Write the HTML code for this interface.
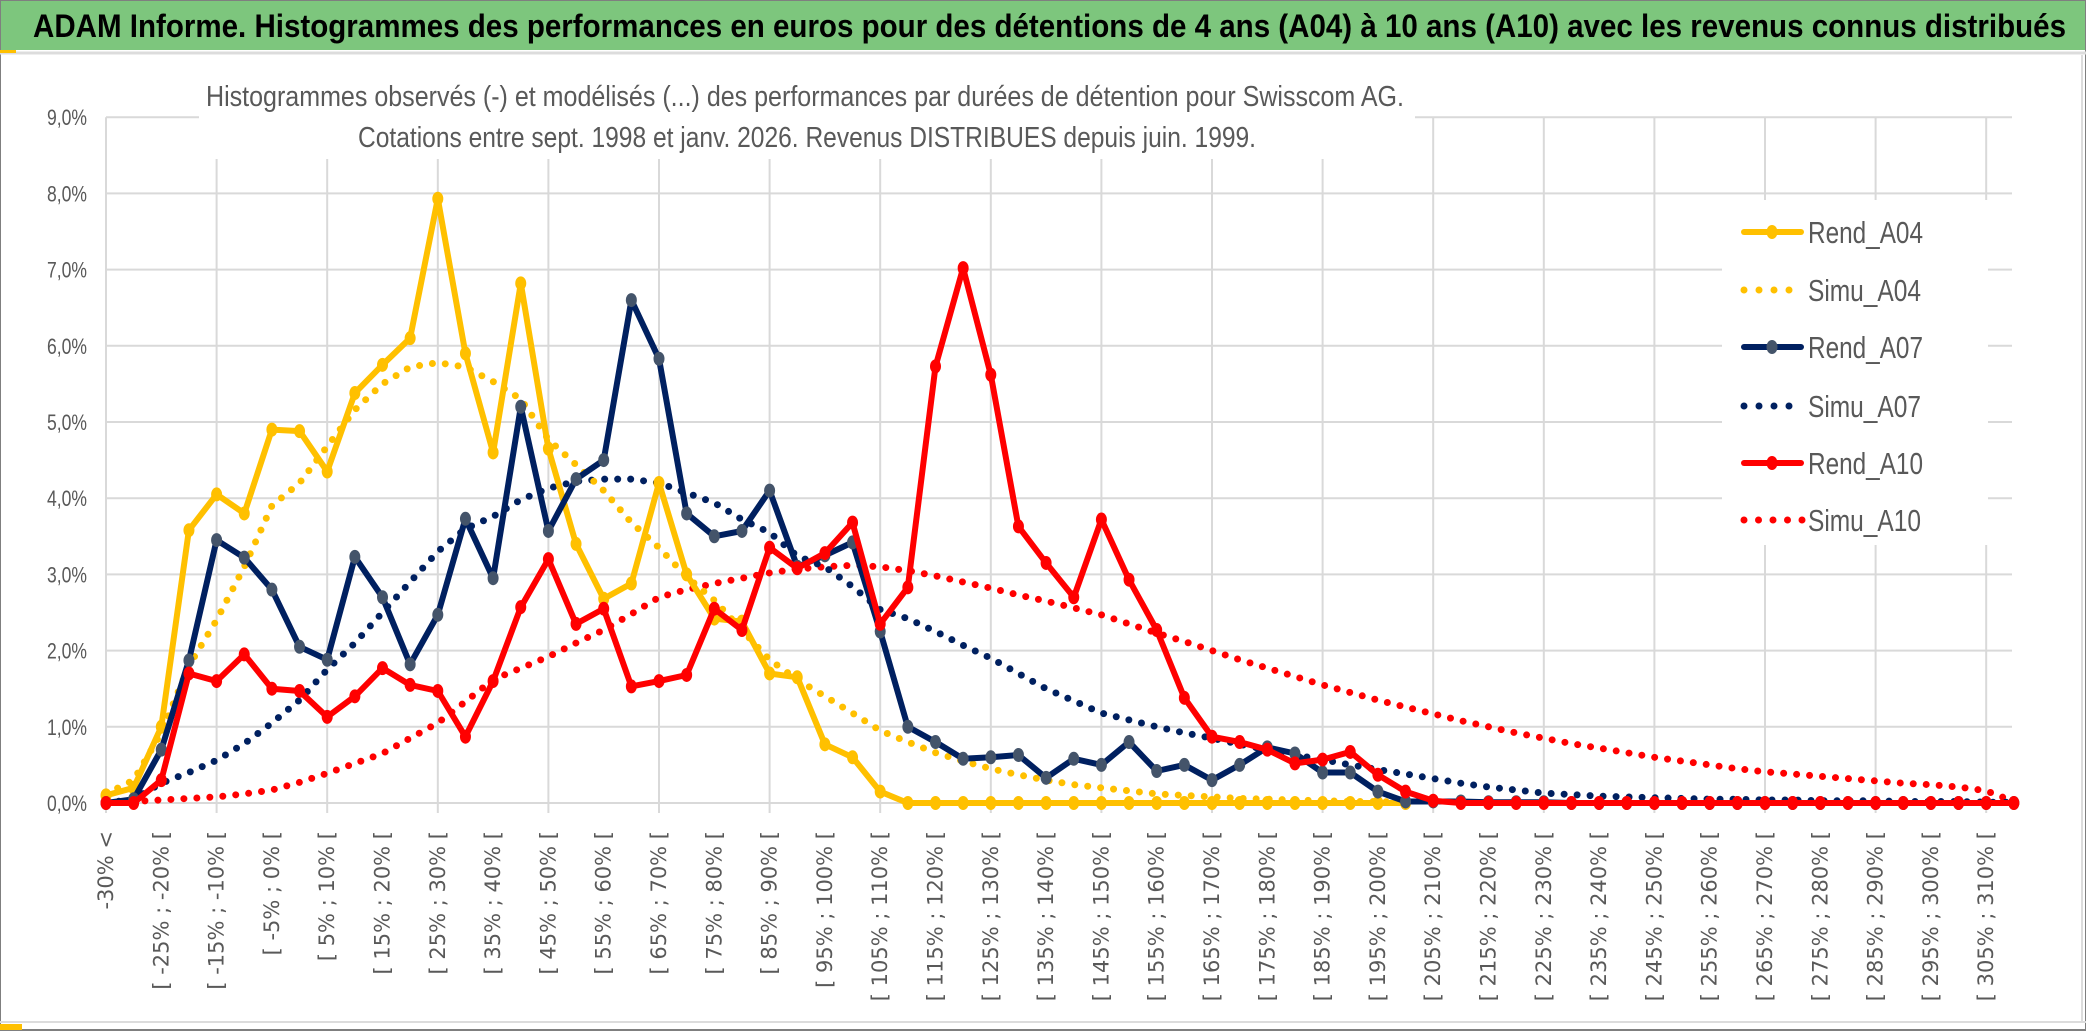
<!DOCTYPE html>
<html><head><meta charset="utf-8">
<style>
html,body{margin:0;padding:0;background:#fff;}
svg{display:block;}
</style></head>
<body>
<svg id="chart" width="2086" height="1031" viewBox="0 0 2086 1031" xmlns="http://www.w3.org/2000/svg">
  <rect x="0" y="0" width="2086" height="1031" fill="#ffffff"/>
  <rect x="0" y="0" width="2086" height="50" fill="#7dc67d"/>
  <rect x="0.5" y="0.5" width="2085" height="1029" fill="none" stroke="#7f7f7f" stroke-width="1"/>
  <line x1="0" y1="53" x2="2086" y2="53" stroke="#dcdcdc" stroke-width="3"/>
  <rect x="0" y="50" width="16" height="3" fill="#ffc000"/>
  <text x="33" y="37" font-family="Liberation Sans, sans-serif" font-weight="bold" font-size="32" fill="#000" textLength="2033" lengthAdjust="spacingAndGlyphs">ADAM Informe. Histogrammes des performances en euros pour des détentions de 4 ans (A04) à 10 ans (A10) avec les revenus connus distribués</text>
  <line x1="0" y1="1022" x2="2086" y2="1022" stroke="#dcdcdc" stroke-width="2"/>
  <line x1="0" y1="1030" x2="2086" y2="1030" stroke="#7f7f7f" stroke-width="2"/>
  <rect x="0" y="1024" width="22" height="6" fill="#ffc000"/>
  <line x1="2082" y1="55" x2="2082" y2="1022" stroke="#dcdcdc" stroke-width="2"/>
  <g id="grid"></g>
  <g id="xlabels"></g>
  <g id="ylabels"></g>
  <g id="series"></g>
  <rect x="199" y="56" width="1216" height="103" fill="#ffffff"/>
  <text x="206" y="106" font-family="Liberation Sans, sans-serif" font-size="29" fill="#595959" textLength="1198" lengthAdjust="spacingAndGlyphs">Histogrammes observés (-) et modélisés (...) des performances par durées de détention pour Swisscom AG.</text>
  <text x="358" y="147" font-family="Liberation Sans, sans-serif" font-size="29" fill="#595959" textLength="898" lengthAdjust="spacingAndGlyphs">Cotations entre sept. 1998 et janv. 2026. Revenus DISTRIBUES depuis juin. 1999.</text>
  <rect x="1722" y="200" width="266" height="345" fill="#ffffff"/>
  <g id="legend"></g>
</svg>
<script>
const categories = (function(){
  const c = ["-30% <"];
  for (let k = 1; k < 70; k++) { const a = -30 + 5*(k-1); c.push("[ " + a + "% ; " + (a+5) + "% ["); }
  return c;
})();
const yTicks = [0,1,2,3,4,5,6,7,8,9];
const yTickLabels = ["0,0%","1,0%","2,0%","3,0%","4,0%","5,0%","6,0%","7,0%","8,0%","9,0%"];
const rendA04 = [0.1,0.2,1.0,3.58,4.05,3.8,4.9,4.88,4.35,5.38,5.75,6.1,7.93,5.9,4.6,6.82,4.65,3.4,2.68,2.88,4.2,3.0,2.42,2.38,1.7,1.65,0.77,0.6,0.15,0,0,0,0,0,0,0,0,0,0,0,0,0,0,0,0,0,0,0];
const simuA04 = [0.12,0.3,0.92,1.8,2.4,3.1,3.9,4.2,4.68,5.16,5.5,5.72,5.78,5.72,5.53,5.3,4.77,4.44,4.1,3.68,3.35,2.97,2.66,2.27,1.88,1.62,1.4,1.18,0.95,0.8,0.66,0.55,0.45,0.37,0.3,0.24,0.2,0.16,0.12,0.1,0.08,0.06,0.05,0.04,0.03,0.02,0.02,0.01];
const rendA07 = [0,0.05,0.7,1.87,3.45,3.22,2.8,2.05,1.88,3.23,2.7,1.82,2.47,3.73,2.95,5.2,3.57,4.25,4.5,6.6,5.83,3.8,3.5,3.57,4.1,3.1,3.25,3.42,2.25,1.0,0.8,0.58,0.6,0.63,0.33,0.58,0.5,0.8,0.42,0.5,0.3,0.5,0.73,0.65,0.4,0.4,0.15,0.02,0.02,0.02,0.01,0.01,0.01,0,0,0,0,0,0,0,0,0,0,0,0,0,0,0,0,0];
const simuA07 = [0,0.05,0.26,0.4,0.56,0.78,1.05,1.35,1.75,2.1,2.5,2.9,3.3,3.6,3.76,3.98,4.13,4.22,4.25,4.25,4.2,4.07,3.94,3.72,3.55,3.24,3.1,2.84,2.54,2.42,2.25,2.07,1.9,1.7,1.5,1.34,1.18,1.09,1.0,0.92,0.85,0.77,0.7,0.63,0.57,0.5,0.44,0.38,0.32,0.26,0.21,0.17,0.13,0.11,0.09,0.08,0.07,0.06,0.05,0.05,0.04,0.04,0.03,0.03,0.03,0.02,0.02,0.02,0.01,0.01];
const rendA10 = [0,0,0.3,1.7,1.6,1.95,1.5,1.47,1.13,1.4,1.77,1.55,1.47,0.87,1.6,2.57,3.2,2.35,2.55,1.53,1.6,1.68,2.55,2.27,3.35,3.08,3.28,3.68,2.35,2.83,5.73,7.02,5.62,3.63,3.15,2.7,3.72,2.93,2.27,1.38,0.87,0.8,0.7,0.52,0.57,0.67,0.37,0.15,0.03,0,0,0,0,0,0,0,0,0,0,0,0,0,0,0,0,0,0,0,0,0];
const simuA10 = [0,0.02,0.04,0.06,0.08,0.12,0.17,0.27,0.39,0.52,0.65,0.85,1.05,1.33,1.62,1.77,1.92,2.1,2.27,2.48,2.7,2.8,2.88,2.95,3.02,3.07,3.1,3.12,3.1,3.05,2.98,2.9,2.82,2.73,2.65,2.56,2.47,2.35,2.23,2.12,2.0,1.88,1.77,1.66,1.55,1.45,1.35,1.26,1.17,1.08,1.0,0.92,0.85,0.78,0.72,0.66,0.6,0.55,0.5,0.45,0.41,0.38,0.35,0.32,0.29,0.26,0.24,0.21,0.16,0.02];

const NS = "http://www.w3.org/2000/svg";
const X0 = 106, DX = 27.65, Y0 = 803, DY = 76.2, XMAX = 2012;
function xScale(i){ return X0 + i*DX; }
function yScale(v){ return Y0 - v*DY; }
function mk(tag, attrs, parent){
  const e = document.createElementNS(NS, tag);
  for (const k in attrs) e.setAttribute(k, attrs[k]);
  parent.appendChild(e); return e;
}
const grid = document.getElementById('grid');
yTicks.forEach(function(t){
  const l = mk('line', {x1:X0, x2:XMAX, y1:yScale(t), y2:yScale(t), stroke:'#d9d9d9', 'stroke-width':2}, grid);
  
  
});
for (let i = 0; i < categories.length; i += 4) {
  const l = mk('line', {x1:xScale(i), x2:xScale(i), y1:yScale(9), y2:Y0+10, stroke:'#d9d9d9', 'stroke-width':2}, grid);
  
  
}
const yl = document.getElementById('ylabels');
yTicks.forEach(function(t, k){
  const tx = mk('text', {x:87, y:yScale(t)+8, 'text-anchor':'end', 'font-family':'Liberation Sans, sans-serif', 'font-size':22, fill:'#595959', textLength:40, lengthAdjust:'spacingAndGlyphs'}, yl);
  tx.textContent = yTickLabels[k];
  
  
});
const xl = document.getElementById('xlabels');
for (let i = 0; i < categories.length; i += 2) {
  const x = xScale(i) + 7, y = 831;
  const tx = mk('text', {x:x, y:y, transform:'rotate(-90 '+x+' '+y+')', 'text-anchor':'end', 'font-family':'DejaVu Sans, sans-serif', 'font-size':21, fill:'#595959'}, xl);
  tx.textContent = categories[i];
  
  
}
const sg = document.getElementById('series');
function pts(arr){ return arr.map(function(v,i){ return xScale(i).toFixed(1)+','+yScale(v).toFixed(1); }).join(' '); }
function dotted(arr, color, name){
  const p = mk('polyline', {points:pts(arr), fill:'none', stroke:color, 'stroke-width':7, 'stroke-linecap':'round', 'stroke-dasharray':'0 13'}, sg);
  
  
}
function solid(arr, color, mcolor, name){
  const p = mk('polyline', {points:pts(arr), fill:'none', stroke:color, 'stroke-width':6, 'stroke-linejoin':'round'}, sg);
  
  
  arr.forEach(function(v,i){
    const c = mk('ellipse', {cx:xScale(i), cy:yScale(v), rx:5.5, ry:7, fill:mcolor}, sg);
    
    
  });
}
dotted(simuA10, '#ff0000', 'simu-a10-line');
dotted(simuA07, '#002060', 'simu-a07-line');
dotted(simuA04, '#ffc000', 'simu-a04-line');
solid(rendA04, '#ffc000', '#ffc000', 'rend-a04-line');
solid(rendA07, '#002060', '#44546a', 'rend-a07-line');
solid(rendA10, '#ff0000', '#ff0000', 'rend-a10-line');

const legendNames = ["Rend_A04","Simu_A04","Rend_A07","Simu_A07","Rend_A10","Simu_A10"];
const legendColors = ["#ffc000","#ffc000","#002060","#002060","#ff0000","#ff0000"];
const legendMarkers = ["#ffc000",null,"#44546a",null,"#ff0000",null];
const legendRows = [232,290,347,406,463,520];
const lg = document.getElementById('legend');
legendNames.forEach(function(n, k){
  const y = legendRows[k];
  const g = mk('g', {}, lg);
  
  
  if (legendMarkers[k]) {
    mk('line', {x1:1744, x2:1801, y1:y, y2:y, stroke:legendColors[k], 'stroke-width':6, 'stroke-linecap':'round'}, g);
    mk('ellipse', {cx:1772, cy:y, rx:5.5, ry:7, fill:legendMarkers[k]}, g);
  } else {
    const n2 = (k === 5) ? 5 : 4;
    for (let d = 0; d < n2; d++) mk('circle', {cx:1744 + d*(k===5?14.5:15), cy:y, r:3.5, fill:legendColors[k]}, g);
  }
  const t = mk('text', {x:1808, y:y+11, 'font-family':'Liberation Sans, sans-serif', 'font-size':31, fill:'#595959', textLength:(k%2===0?115:113), lengthAdjust:'spacingAndGlyphs'}, g);
  t.textContent = n;
});
</script>
</body></html>
